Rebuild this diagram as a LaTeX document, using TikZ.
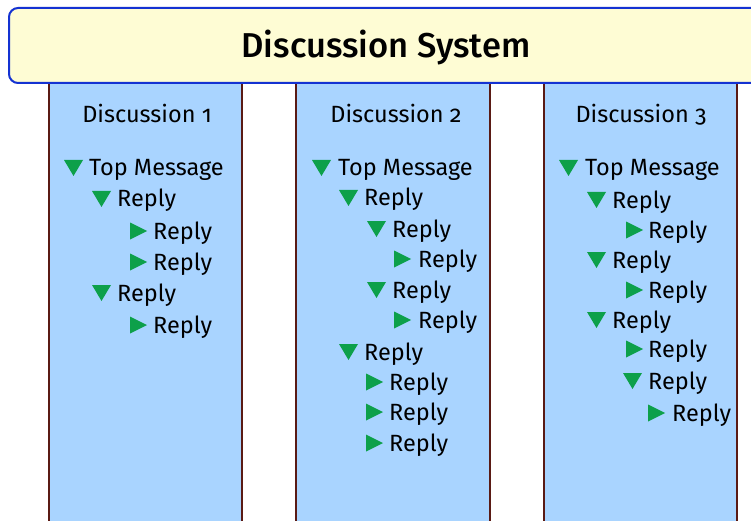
\documentclass[tikz,border=0pt]{standalone}
\usepackage{fontspec}
\setmainfont[Numbers=OldStyle]{Fira Sans}
\newfontfamily\medfont[Numbers=OldStyle]{Fira Sans Medium}
\usepackage{tikz}
\usetikzlibrary{positioning}
\usepackage{xcolor}
\definecolor{dsyellow}{HTML}{FEFCD4}
\definecolor{dsblue}{HTML}{1432D2}
\definecolor{dssky}{HTML}{A9D4FF}
\definecolor{dsbrown}{HTML}{5A1A14}
\definecolor{dsgreen}{HTML}{0DA04A}

\tikzset{
  tridn/.pic={\fill[dsgreen] (0,-8) -- (19,-8) -- (9.5,8) -- cycle;},
  trirt/.pic={\fill[dsgreen] (0,-8.5) -- (0,8.5) -- (17,0) -- cycle;},
  msg/.style={anchor=base west, inner sep=0pt, font=\fontsize{23.5}{28}\selectfont},
  colhead/.style={anchor=base, inner sep=0pt, font=\fontsize{23.5}{28}\selectfont},
}

\begin{document}
\begin{tikzpicture}[x=1pt, y=-1pt]
    \useasboundingbox (0,0) rectangle (751,521);
    \clip (0,0) rectangle (751,521);
    % columns
    \fill[dssky] (49,80) rectangle (242,530);
    \fill[dssky] (296,80) rectangle (490,530);
    \fill[dssky] (544,80) rectangle (737,530);
    \draw[dsbrown, line width=2pt] (49,80) -- (49,530) (242,80) -- (242,530);
    \draw[dsbrown, line width=2pt] (296,80) -- (296,530) (490,80) -- (490,530);
    \draw[dsbrown, line width=2pt] (544,80) -- (544,530) (737,80) -- (737,530);
    % header
    \draw[dsblue, fill=dsyellow, line width=2pt, rounded corners=9pt] (9,8) rectangle (790,83);
    \node[anchor=base, inner sep=0pt, font=\medfont\fontsize{34.5}{40}\selectfont] (title) at (386,58) {Discussion System};

    % discussion 1
    \node[colhead] (d1) at (147,123) {Discussion 1};
    \pic at (64,168) {tridn};  \node[msg] (d1m) at (89,176) {Top Message};
    \pic at (92,199) {tridn};  \node[msg] (d1r1) at (117,207) {Reply};
    \pic at (130,231) {trirt}; \node[msg] (d1r2) at (153,239) {Reply};
    \pic at (130,262) {trirt}; \node[msg] (d1r3) at (153,270) {Reply};
    \pic at (92,293) {tridn};  \node[msg] (d1r4) at (117,301) {Reply};
    \pic at (130,325) {trirt}; \node[msg] (d1r5) at (153,333) {Reply};

    % discussion 2
    \node[colhead] (d2) at (396,123) {Discussion 2};
    \pic at (312,168) {tridn}; \node[msg] (d2m) at (338,176) {Top Message};
    \pic at (339,198) {tridn}; \node[msg] (d2r1) at (364,206) {Reply};
    \pic at (367,229) {tridn}; \node[msg] (d2r2) at (392,237) {Reply};
    \pic at (394,259) {trirt}; \node[msg] (d2r3) at (418,267) {Reply};
    \pic at (367,290) {tridn}; \node[msg] (d2r4) at (392,298) {Reply};
    \pic at (394,320) {trirt}; \node[msg] (d2r5) at (418,328) {Reply};
    \pic at (339,352) {tridn}; \node[msg] (d2r6) at (364,360) {Reply};
    \pic at (366,382) {trirt}; \node[msg] (d2r7) at (389,390) {Reply};
    \pic at (366,412) {trirt}; \node[msg] (d2r8) at (389,420) {Reply};
    \pic at (366,443) {trirt}; \node[msg] (d2r9) at (389,451) {Reply};

    % discussion 3
    \node[colhead] (d3) at (641,123) {Discussion 3};
    \pic at (559,168) {tridn}; \node[msg] (d3m) at (585,176) {Top Message};
    \pic at (587,200) {tridn}; \node[msg] (d3r1) at (612,208) {Reply};
    \pic at (626,230) {trirt}; \node[msg] (d3r2) at (648,238) {Reply};
    \pic at (587,260) {tridn}; \node[msg] (d3r3) at (612,268) {Reply};
    \pic at (626,290) {trirt}; \node[msg] (d3r4) at (648,298) {Reply};
    \pic at (587,320) {tridn}; \node[msg] (d3r5) at (612,328) {Reply};
    \pic at (626,349) {trirt}; \node[msg] (d3r6) at (648,357) {Reply};
    \pic at (623,381) {tridn}; \node[msg] (d3r7) at (648,389) {Reply};
    \pic at (648,413) {trirt}; \node[msg] (d3r8) at (672,421) {Reply};
  \end{tikzpicture}
\end{document}
